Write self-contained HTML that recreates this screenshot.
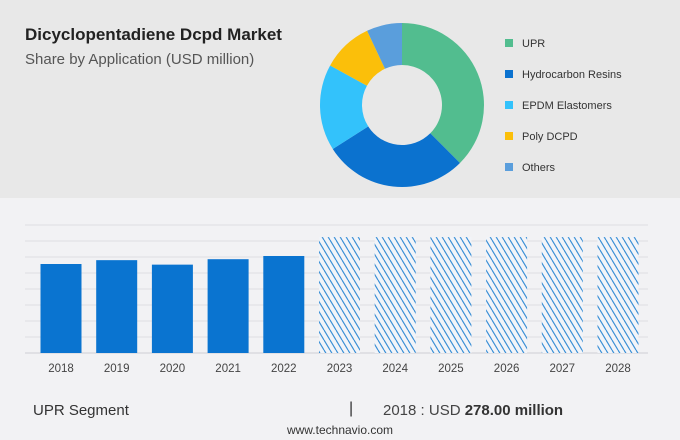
<!DOCTYPE html>
<html><head><meta charset="utf-8">
<style>
html,body{margin:0;padding:0;}
body{width:680px;height:440px;position:relative;background:#f2f2f4;font-family:"Liberation Sans",sans-serif;overflow:hidden;}
#top{position:absolute;left:0;top:0;width:680px;height:198px;background:#e8e8e8;}
.title{position:absolute;left:25px;top:25px;font-size:17px;font-weight:bold;color:#222;}
.sub{position:absolute;left:25px;top:51px;font-size:15px;color:#555;}
.leg{position:absolute;left:505px;font-size:11px;color:#333;}
.leg i{display:inline-block;width:8px;height:8px;margin-right:9px;vertical-align:0px;}
</style></head><body>
<div id="top"></div>
<div class="title">Dicyclopentadiene Dcpd Market</div>
<div class="sub">Share by Application (USD million)</div>
<svg id="donut" width="680" height="200" style="position:absolute;left:0;top:0"></svg>
<div class="leg" style="top:38px"><i style="background:#52bd8f"></i>UPR</div>
<div class="leg" style="top:69px"><i style="background:#0b72cf"></i>Hydrocarbon Resins</div>
<div class="leg" style="top:100px"><i style="background:#33c2fb"></i>EPDM Elastomers</div>
<div class="leg" style="top:131px"><i style="background:#fbbf0a"></i>Poly DCPD</div>
<div class="leg" style="top:162px"><i style="background:#5a9edc"></i>Others</div>
<svg id="bars" width="680" height="200" style="position:absolute;left:0;top:200px">
<defs><pattern id="hatch" patternUnits="userSpaceOnUse" width="6" height="10"><rect width="6" height="10" fill="#f2f4f8"/><g stroke="#3a8fd6" stroke-width="1.2"><line x1="-6" y1="0" x2="0" y2="10"/><line x1="0" y1="0" x2="6" y2="10"/><line x1="6" y1="0" x2="12" y2="10"/></g></pattern></defs>
</svg>
<div style="position:absolute;left:33px;top:402px;font-size:15px;color:#333">UPR Segment</div>
<div style="position:absolute;left:349px;top:400px;font-size:16px;color:#333">|</div>
<div style="position:absolute;left:383px;top:402px;font-size:15px;color:#444">2018 : USD <b style="color:#333">278.00 million</b></div>
<div style="position:absolute;left:0;width:680px;text-align:center;top:423px;font-size:12px;color:#333">www.technavio.com</div>
<script>
const sliceNames=["UPR","Hydrocarbon Resins","EPDM Elastomers","Poly DCPD","Others"];
const sliceValues=[37.5,28.5,17,10,7];
const sliceColors=["#52bd8f","#0b72cf","#33c2fb","#fbbf0a","#5a9edc"];
const years=["2018","2019","2020","2021","2022","2023","2024","2025","2026","2027","2028"];
const values=[278,290,276,293,303,362,362,362,362,362,362];
const forecast=[false,false,false,false,false,true,true,true,true,true,true];
const NS="http://www.w3.org/2000/svg";
(function(){
const svg=document.getElementById('donut');const cx=402,cy=105,R=82,r=40;
const tot=sliceValues.reduce((a,b)=>a+b,0);let a0=0;
sliceValues.forEach((v,i)=>{const a1=a0+v/tot*2*Math.PI;
const p=(a,rad)=>[cx+rad*Math.sin(a),cy-rad*Math.cos(a)];
const [x0,y0]=p(a0,R),[x1,y1]=p(a1,R),[x2,y2]=p(a1,r),[x3,y3]=p(a0,r);const lg=(a1-a0)>Math.PI?1:0;
const path=document.createElementNS(NS,'path');
path.setAttribute('d',`M${x0},${y0}A${R},${R} 0 ${lg} 1 ${x1},${y1}L${x2},${y2}A${r},${r} 0 ${lg} 0 ${x3},${y3}Z`);
path.setAttribute('fill',sliceColors[i]);


svg.appendChild(path);a0=a1;});
})();
(function(){
const svg=document.getElementById('bars');const base=153,pxPer=89/278;
const x=i=>61+i*55.7;const y=v=>base-v*pxPer;
for(let k=0;k<9;k++){const l=document.createElementNS(NS,'line');const gy=base-k*16;
l.setAttribute('x1',25);l.setAttribute('x2',648);l.setAttribute('y1',gy);l.setAttribute('y2',gy);
l.setAttribute('stroke',k==0?'#cfcfd3':'#dedee2');l.setAttribute('stroke-width','1');


svg.appendChild(l);}
years.forEach((yr,i)=>{const rc=document.createElementNS(NS,'rect');
rc.setAttribute('x',x(i)-20.5);rc.setAttribute('width',41);rc.setAttribute('y',y(values[i]));rc.setAttribute('height',base-y(values[i]));
rc.setAttribute('fill',forecast[i]?'url(#hatch)':'#0a74d0');


svg.appendChild(rc);
const t=document.createElementNS(NS,'text');t.setAttribute('x',x(i));t.setAttribute('y',172);t.setAttribute('text-anchor','middle');
t.setAttribute('font-size','11.5');t.setAttribute('fill','#444');t.setAttribute('font-family','Liberation Sans, sans-serif');t.textContent=yr;


svg.appendChild(t);});
})();
</script>
</body></html>
